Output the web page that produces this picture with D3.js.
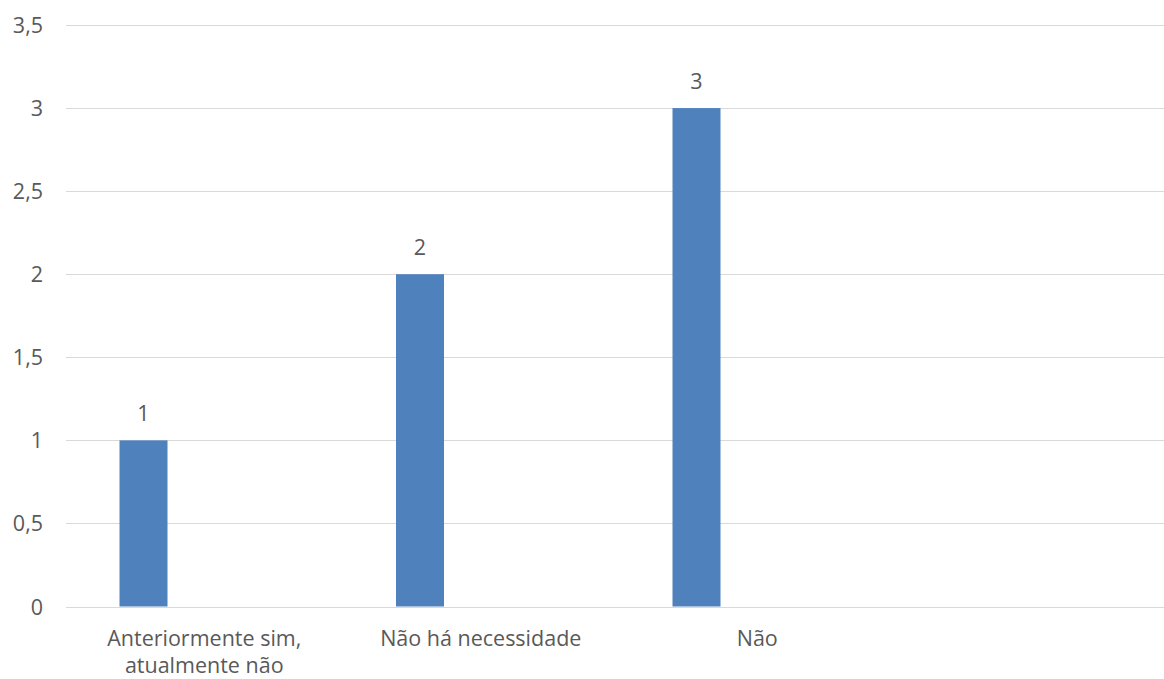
<!DOCTYPE html>
<html><head><meta charset="utf-8">
<script src="https://cdn.jsdelivr.net/npm/d3@7"></script>
<style>
html,body{margin:0;padding:0;background:#fff;}
svg text{font-family:"Open Sans","Noto Sans",sans-serif;fill:#595959;}
</style></head>
<body>
<svg id="chart" width="1164" height="679"></svg>
<script>
const categories = ["Anteriormente sim, atualmente não", "Não há necessidade", "Não", ""];
const categoryLines = [["Anteriormente sim,", "atualmente não"], ["Não há necessidade"], ["Não"], [""]];
const values = [1, 2, 3, null];
const yTicks = [0, 0.5, 1, 1.5, 2, 2.5, 3, 3.5];
const yTickLabels = ["0", "0,5", "1", "1,5", "2", "2,5", "3", "3,5"];

(function () {
const W = 1164;
const mLeft = 66, mRight = 1172, mTop = 25, mBottom = 606.5;
const fontSize = 21.5;

const svg = d3.select("#chart");
const x = d3.scaleBand().domain(d3.range(categories.length)).range([mLeft, mRight]);
const y = d3.scaleLinear().domain([0, 3.5]).range([mBottom, mTop]);
const inner = d3.scaleLinear().domain([0, 1]).range([0, x.bandwidth()]);
const barStart = 0.1935, barWidthFrac = 0.1736;

svg.append("g").selectAll("line").data(yTicks).join("line")
  .attr("x1", mLeft).attr("x2", W)
  .attr("y1", d => Math.round(y(d)) + 0.5).attr("y2", d => Math.round(y(d)) + 0.5)
  .attr("stroke", "#d9d9d9").attr("stroke-width", 1);

svg.append("g").selectAll("text").data(yTicks).join("text")
  .attr("x", 43).attr("y", d => y(d) + 8)
  .attr("text-anchor", "end").attr("font-size", fontSize)
  .text((d, i) => yTickLabels[i]);

const data = values.map((v, i) => ({i, v})).filter(d => d.v != null);
svg.append("g").selectAll("rect").data(data).join("rect")
  .attr("x", d => x(d.i) + inner(barStart))
  .attr("width", inner(barWidthFrac))
  .attr("y", d => y(d.v))
  .attr("height", d => y(0) - y(d.v))
  .attr("fill", "#4f81bd");

svg.append("g").selectAll("text").data(data).join("text")
  .attr("x", d => x(d.i) + inner(barStart + barWidthFrac / 2))
  .attr("y", d => y(d.v) - 19)
  .attr("text-anchor", "middle").attr("font-size", fontSize)
  .text(d => d.v);

const cat = svg.append("g").selectAll("text").data(categoryLines).join("text")
  .attr("x", (d, i) => x(i) + x.bandwidth() / 2)
  .attr("y", 646).attr("text-anchor", "middle").attr("font-size", fontSize);
cat.selectAll("tspan").data(d => d).join("tspan")
  .attr("x", function() { return this.parentNode.getAttribute("x"); })
  .attr("dy", (d, j) => j === 0 ? 0 : 27)
  .text(d => d);
})();
</script>
</body></html>
